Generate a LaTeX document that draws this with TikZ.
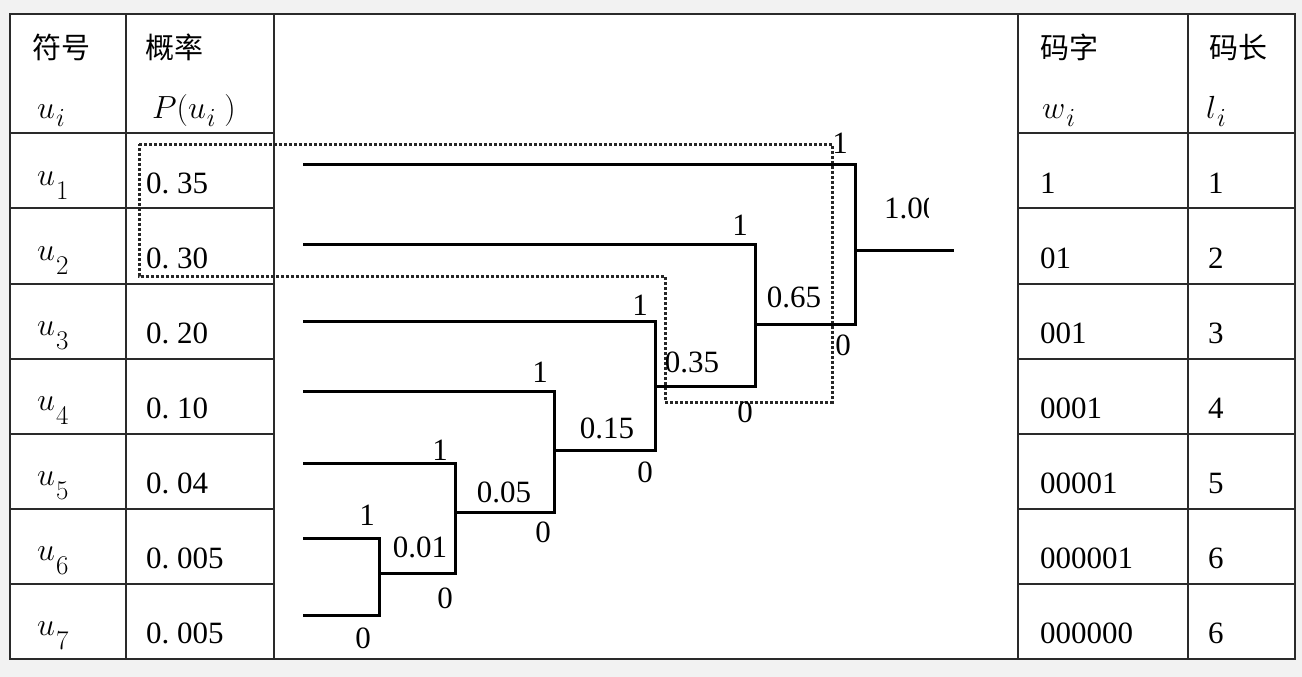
\documentclass[tikz,border=0pt]{standalone}
\usepackage{fix-cm}
\usepackage{fontspec}
\newfontfamily\cjk{Noto Sans CJK SC}
\newfontfamily\tms{Liberation Serif}
\definecolor{bgg}{HTML}{F2F2F2}
\definecolor{grid}{HTML}{2A2A2A}
\newcommand{\subdig}[1]{\kern1pt\raisebox{-14pt}{\fontsize{27}{27}\selectfont #1}}
\newcommand{\subi}{\kern1pt\raisebox{-8pt}{\fontsize{26}{26}\selectfont$i$}}
\tikzset{
  gridline/.style={draw=grid,line width=1.5pt},
  treeline/.style={draw=black,line width=3pt,line join=miter},
  dotline/.style={draw=black!85,line width=3pt,dash pattern=on 2.6pt off 2.4pt},
  hd/.style={inner sep=0pt,anchor=base west,font=\cjk\fontsize{29}{31}\selectfont},
  mth/.style={inner sep=0pt,anchor=base west,font=\fontsize{32}{34}\selectfont},
  num/.style={inner sep=0pt,anchor=base west,font=\tms\fontsize{31}{33}\selectfont},
  lbl/.style={inner sep=0pt,anchor=center,font=\tms\fontsize{31}{33}\selectfont},
}
\begin{document}
\begin{tikzpicture}[x=1pt,y=-1pt]
\useasboundingbox (0,0) rectangle (1302,677);
\fill[bgg] (0,0) rectangle (1302,677);
\fill[white] (10,14) rectangle (1295,659);
% grid
\draw[gridline] (10,14) rectangle (1295,659);
\foreach \x in {126,274,1018,1188} \draw[gridline] (\x,14) -- (\x,659);
\foreach \y in {133,208,284,359,434,509,584} {
  \draw[gridline] (10,\y) -- (274,\y);
  \draw[gridline] (1018,\y) -- (1295,\y);
}
% headers
\node[hd] (h1) at (32,59) {符号};
\node[hd] (h2) at (145,59) {概率};
\node[hd] (h3) at (1040,59) {码字};
\node[hd] (h4) at (1209,59) {码长};
\node[mth] (m1) at (37,118) {$u$\subi};
\node[mth] (m2) at (152,118) {$P(u$\subi$\;)$};
\node[mth] (m3) at (1042,118) {$w$\subi};
\node[mth] (m4) at (1206,118) {$l$\subi};
% rows
\foreach \k/\p/\w/\l [evaluate=\k as \t using 133+75.1*(\k-1)] in
  {1/0.\ 35/1/1, 2/0.\ 30/01/2, 3/0.\ 20/001/3, 4/0.\ 10/0001/4,
   5/0.\ 04/00001/5, 6/0.\ 005/000001/6, 7/0.\ 005/000000/6} {
  \node[mth] (u\k) at (37,\t+52) {$u$\subdig{\k}};
  \node[num] (p\k) at (146,\t+60) {\p};
  \node[num] (w\k) at (1040,\t+60) {\w};
  \node[num] (l\k) at (1208,\t+60) {\l};
}
% dotted frame
\draw[dotline] (139,144) -- (832,144) -- (832,402) -- (665,402) -- (665,276) -- (139,276) -- cycle;
% tree
\coordinate (L1) at (303,164);
\coordinate (L2) at (303,244);
\coordinate (L3) at (303,321);
\coordinate (L4) at (303,391);
\coordinate (L5) at (303,463);
\coordinate (L6) at (303,538);
\coordinate (L7) at (303,615);
\coordinate (J6) at (379,573);
\coordinate (J5) at (455,512);
\coordinate (J4) at (554,450);
\coordinate (J3) at (655,386);
\coordinate (J2) at (755,324);
\coordinate (J1) at (855,250);
\coordinate (R) at (954,250);
\draw[treeline] (L6) -| (J6) |- (L7);
\draw[treeline] (L5) -| (J5) |- (J6);
\draw[treeline] (L4) -| (J4) |- (J5);
\draw[treeline] (L3) -| (J3) |- (J4);
\draw[treeline] (L2) -| (J2) |- (J3);
\draw[treeline] (L1) -| (J1) |- (J2);
\draw[treeline] (J1) -- (R);
% labels
\node[lbl] (a1) at (840,143) {1};
\node[lbl] (b1) at (843,345) {0};
\begin{scope}
\clip (870,180) rectangle (928,240);
\node[lbl,anchor=west] (v1) at (884,208) {1.00};
\end{scope}
\node[lbl] (a2) at (740,225) {1};
\node[lbl] (v2) at (794,297) {0.65};
\node[lbl] (b2) at (745,412) {0};
\node[lbl] (a3) at (640,305) {1};
\node[lbl] (v3) at (692,362) {0.35};
\node[lbl] (a4) at (540,372) {1};
\node[lbl] (v4) at (607,428) {0.15};
\node[lbl] (b4) at (645,472) {0};
\node[lbl] (a5) at (440,450) {1};
\node[lbl] (v5) at (504,492) {0.05};
\node[lbl] (b5) at (543,532) {0};
\node[lbl] (a6) at (367,515) {1};
\node[lbl] (v6) at (420,547) {0.01};
\node[lbl] (b6) at (445,598) {0};
\node[lbl] (b7) at (363,638) {0};
\end{tikzpicture}
\end{document}
